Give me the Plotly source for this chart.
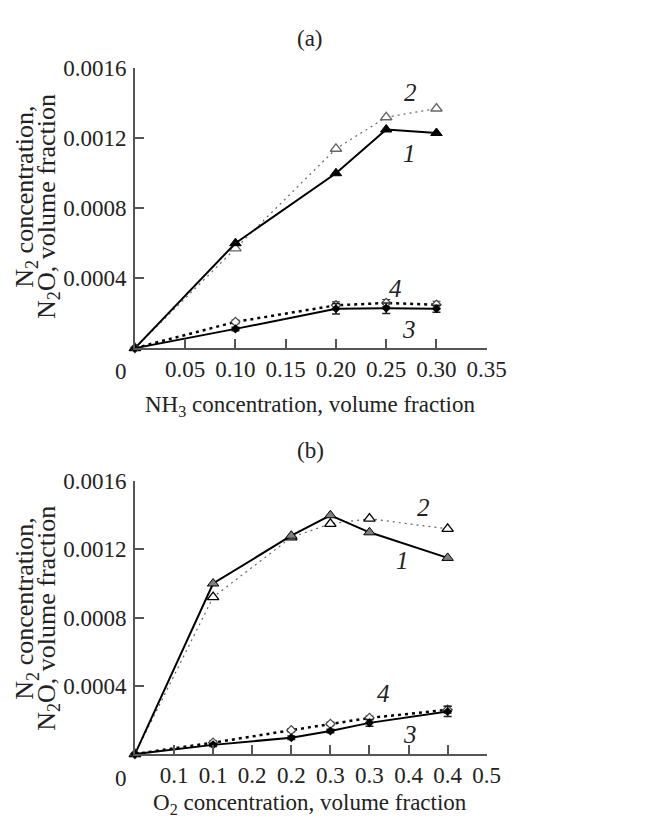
import plotly.graph_objects as go

# ---------- data ----------
# (a) NH3 variation
xa = [0.0, 0.10, 0.20, 0.25, 0.30]
a_s1 = [0.0, 0.00060, 0.00100, 0.00125, 0.00123]
a_s2 = [0.0, 0.00057, 0.00114, 0.00132, 0.00137]
a_s3 = [0.0, 0.00011, 0.000225, 0.000228, 0.000225]
a_s4 = [0.0, 0.00015, 0.000245, 0.000258, 0.000248]
a_err3 = [0.0, 0.00001, 0.00003, 0.00003, 0.00002]
a_err4 = [0.0, 0.00001, 0.00002, 0.00002, 0.00002]

# (b) O2 variation
xb = [0.0, 0.10, 0.20, 0.25, 0.30, 0.40]
b_s1 = [0.0, 0.00100, 0.00128, 0.00140, 0.00130, 0.00115]
b_s2 = [0.0, 0.00092, 0.00127, 0.00135, 0.00138, 0.00132]
b_s3 = [0.0, 0.000054, 0.000096, 0.000135, 0.000183, 0.00025]
b_s4 = [0.0, 0.000067, 0.00014, 0.000177, 0.000212, 0.00026]
b_err3 = [0.0, 0.00001, 0.00001, 0.00001, 0.00002, 0.00003]
b_err4 = [0.0, 0.00001, 0.00001, 0.00001, 0.00001, 0.00002]

xa_ticks = [0.05, 0.10, 0.15, 0.20, 0.25, 0.30, 0.35]
xa_ticktext = ["0.05", "0.10", "0.15", "0.20", "0.25", "0.30", "0.35"]
xb_ticks = [0.05, 0.10, 0.15, 0.20, 0.25, 0.30, 0.35, 0.40, 0.45]
xb_ticktext = ["0.1", "0.1", "0.2", "0.2", "0.3", "0.3", "0.4", "0.4", "0.5"]
y_ticks = [0.0004, 0.0008, 0.0012, 0.0016]
y_ticktext = ["0.0004", "0.0008", "0.0012", "0.0016"]

FONT = "Liberation Serif"
AXC = "#555555"

fig = go.Figure()


def add_panel(x, s1, s2, s3, s4, e3, e4, xa_ref, ya_ref, s1color, s2line):
    # series 2 (dotted thin, open triangles)
    fig.add_trace(go.Scatter(
        x=x, y=s2, xaxis=xa_ref, yaxis=ya_ref, mode="lines+markers",
        line=dict(color="#666666", width=1.2, dash="2px,4px"),
        marker=dict(symbol="triangle-up", size=10, color="white",
                    line=dict(color=s2line, width=1.3)),
        cliponaxis=False, showlegend=False))
    # series 1 (solid, filled triangles)
    fig.add_trace(go.Scatter(
        x=x, y=s1, xaxis=xa_ref, yaxis=ya_ref, mode="lines+markers",
        line=dict(color="black", width=2),
        marker=dict(symbol="triangle-up", size=10, color=s1color,
                    line=dict(color="black", width=1)),
        cliponaxis=False, showlegend=False))
    # series 4 (dotted thick, open diamonds)
    fig.add_trace(go.Scatter(
        x=x, y=s4, xaxis=xa_ref, yaxis=ya_ref, mode="lines+markers",
        line=dict(color="black", width=2.5, dash="3px,4px"),
        marker=dict(symbol="diamond", size=7, color="white",
                    line=dict(color="#444444", width=1.2)),
        error_y=dict(type="data", array=e4, color="#333333", thickness=1.2, width=4),
        cliponaxis=False, showlegend=False))
    # series 3 (solid, filled diamonds)
    fig.add_trace(go.Scatter(
        x=x, y=s3, xaxis=xa_ref, yaxis=ya_ref, mode="lines+markers",
        line=dict(color="black", width=2),
        marker=dict(symbol="diamond", size=7, color="black"),
        error_y=dict(type="data", array=e3, color="#222222", thickness=1.5, width=4),
        cliponaxis=False, showlegend=False))


add_panel(xa, a_s1, a_s2, a_s3, a_s4, a_err3, a_err4, "x", "y", "black", "#666666")
add_panel(xb, b_s1, b_s2, b_s3, b_s4, b_err3, b_err4, "x2", "y2", "#808080", "black")

W, H = 647, 819
OFF = 8  # page body margin


def fx(p):
    return (p - OFF) / W


def fy(p):
    return 1 - (p - OFF) / H


x_dom = [fx(139), fx(502)]
top_dom = [fy(341), fy(57)]
bot_dom = [fy(753), fy(476)]

axis_common = dict(
    showline=True, linecolor=AXC, linewidth=1.5, showgrid=False, zeroline=False,
    ticks="inside", ticklen=9, tickwidth=1.5, tickcolor=AXC,
    tickfont=dict(family=FONT, size=23, color="#222222"),
)

fig.update_layout(
    width=W, height=H, margin=dict(l=0, r=0, t=0, b=0),
    paper_bgcolor="white", plot_bgcolor="white",
    xaxis=dict(domain=x_dom, range=[0, 0.35], anchor="y",
               tickvals=xa_ticks, ticktext=xa_ticktext, **axis_common),
    yaxis=dict(domain=top_dom, range=[0, 0.0016], anchor="x",
               tickvals=y_ticks, ticktext=y_ticktext, ticklabelstandoff=2, **axis_common),
    xaxis2=dict(domain=x_dom, range=[0, 0.45], anchor="y2",
                tickvals=xb_ticks, ticktext=xb_ticktext, **axis_common),
    yaxis2=dict(domain=bot_dom, range=[0, 0.0016], anchor="x2",
                tickvals=y_ticks, ticktext=y_ticktext, ticklabelstandoff=2, **axis_common),
)

txt = dict(family=FONT, size=23, color="#222222")
ytxt = dict(family=FONT, size=26, color="#222222")
ital = dict(family=FONT, size=25, color="#222222")


def pix(xp, yp, text, font, angle=0):
    fig.add_annotation(x=fx(xp), y=fy(yp), xref="paper", yref="paper",
                       text=text, showarrow=False, font=font, textangle=angle,
                       xanchor="center", yanchor="middle")


# titles
pix(320, 27, "(a)", txt)
pix(320, 445, "(b)", txt)
# origin labels
pix(125, 365, "0", txt)
pix(125, 778, "0", txt)
# x-axis titles
pix(320, 400, "NH<sub>3</sub> concentration, volume fraction", txt)
pix(320, 804, "O<sub>2</sub> concentration, volume fraction", txt)
# y-axis titles (two lines each)
for yc in (197, 615):
    pix(27, yc - 10, "N<sub>2</sub> concentration,", ytxt, -90)
    pix(49, yc, "N<sub>2</sub>O, volume fraction", ytxt, -90)

# curve numbers
for xp, yp, t in [(423, 82, "2"), (422, 143, "1"), (408, 280, "4"), (422, 322, "3"),
                  (437, 503, "2"), (415, 557, "1"), (395, 692, "4"), (423, 733, "3")]:
    pix(xp, yp, "<i>" + t + "</i>", ital)

fig.write_html("out.html")
